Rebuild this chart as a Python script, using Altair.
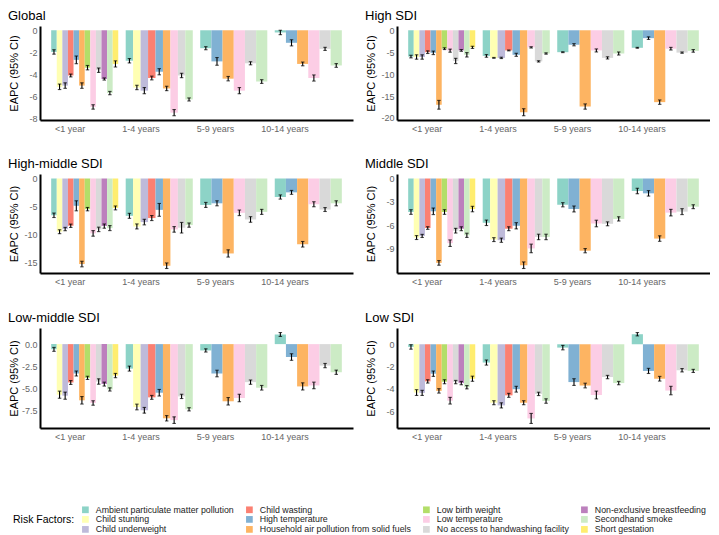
import altair as alt
import pandas as pd

FONT = "Liberation Sans"

panels = ["Global", "High SDI", "High-middle SDI", "Middle SDI", "Low-middle SDI", "Low SDI"]
ages = ["<1 year", "1-4 years", "5-9 years", "10-14 years"]

factors_lt1 = ["Ambient particulate matter pollution", "Child stunting", "Child underweight",
               "Child wasting", "High temperature", "Household air pollution from solid fuels",
               "Low birth weight", "Low temperature", "No access to handwashing facility",
               "Non-exclusive breastfeeding", "Secondhand smoke", "Short gestation"]
factors_1_4 = ["Ambient particulate matter pollution", "Child stunting", "Child underweight",
               "Child wasting", "High temperature", "Household air pollution from solid fuels",
               "Low temperature", "No access to handwashing facility", "Secondhand smoke"]
factors_older = ["Ambient particulate matter pollution", "High temperature",
                 "Household air pollution from solid fuels", "Low temperature",
                 "No access to handwashing facility", "Secondhand smoke"]
age_factors = [factors_lt1, factors_1_4, factors_older, factors_older]

# colours in the order of factors_lt1 (legend fills column by column)
factor_colors = ["#8DD3C7", "#FFFFB3", "#BEBADA", "#FB8072", "#80B1D3", "#FDB462",
                 "#B3DE69", "#FCCDE5", "#D9D9D9", "#BC80BD", "#CCEBC5", "#FFED6F"]

# EAPC values: <1 year (12), 1-4 years (9), 5-9 years (6), 10-14 years (6)
global_vals = [-1.97, -5.14, -5.03, -4.11, -2.69, -5.03, -3.40, -6.97, -3.63, -4.43, -5.71, -3.06,
               -2.77, -5.20, -5.49, -4.34, -3.77, -5.29, -7.49, -4.11, -6.29,
               -1.63, -2.83, -4.40, -5.49, -3.00, -4.66,
               -0.20, -1.14, -3.06, -4.34, -1.69, -3.20]
global_err = [0.20, 0.25, 0.25, 0.13, 0.35, 0.25, 0.20, 0.20, 0.20, 0.10, 0.15, 0.28,
              0.20, 0.20, 0.28, 0.17, 0.28, 0.20, 0.28, 0.20, 0.14,
              0.14, 0.35, 0.20, 0.28, 0.14, 0.17,
              0.20, 0.28, 0.17, 0.28, 0.14, 0.17]

high_vals = [-6.0, -6.1, -6.1, -5.0, -5.15, -17.0, -4.2, -4.65, -7.0, -4.6, -5.6, -3.9,
             -5.85, -6.3, -6.3, -4.6, -5.6, -18.7, -3.9, -7.1, -5.3,
             -5.0, -3.3, -17.4, -4.6, -6.3, -5.3,
             -4.0, -1.8, -16.4, -4.2, -5.1, -4.7]
high_err = [0.30, 0.50, 0.50, 0.30, 0.40, 1.00, 0.20, 0.35, 0.60, 0.20, 0.50, 0.25,
            0.30, 0.10, 0.15, 0.10, 0.35, 0.80, 0.15, 0.15, 0.15,
            0.10, 0.25, 0.60, 0.35, 0.25, 0.35,
            0.10, 0.30, 0.50, 0.30, 0.15, 0.30]

highmid_vals = [-6.6, -9.55, -9.07, -8.48, -4.9, -15.35, -5.5, -9.85, -9.13, -8.54, -8.9, -5.28,
                -6.7, -8.6, -7.82, -7.1, -5.63, -15.65, -9.13, -8.83, -8.36,
                -4.74, -4.45, -13.45, -6.16, -7.35, -5.99,
                -3.32, -2.49, -11.8, -4.62, -5.57, -4.45]
highmid_err = [0.40, 0.35, 0.30, 0.30, 0.90, 0.50, 0.30, 0.50, 0.40, 0.38, 0.45, 0.35,
               0.45, 0.45, 0.50, 0.45, 1.15, 0.50, 0.50, 0.95, 0.38,
               0.45, 0.45, 0.65, 0.50, 0.50, 0.45,
               0.38, 0.35, 0.50, 0.45, 0.35, 0.45]

middle_vals = [-4.29, -7.56, -7.35, -6.34, -4.2, -10.8, -4.29, -8.28, -6.68, -6.43, -7.27, -3.91,
               -5.67, -7.82, -7.9, -6.43, -6.05, -11.1, -8.95, -7.48, -7.48,
               -3.36, -3.9, -9.24, -5.76, -5.8, -5.17,
               -1.6, -1.9, -7.69, -4.37, -4.24, -3.61]
middle_err = [0.30, 0.25, 0.20, 0.17, 0.42, 0.30, 0.30, 0.42, 0.30, 0.25, 0.27, 0.35,
              0.35, 0.25, 0.27, 0.25, 0.40, 0.42, 0.55, 0.35, 0.35,
              0.27, 0.38, 0.27, 0.42, 0.25, 0.27,
              0.35, 0.35, 0.35, 0.42, 0.38, 0.25]

lowmid_vals = [-0.59, -5.68, -5.79, -4.31, -3.3, -6.31, -3.79, -6.61, -4.2, -4.49, -5.09, -3.53,
               -2.75, -7.06, -7.43, -5.98, -5.46, -8.33, -8.54, -5.87, -7.32,
               -0.71, -3.3, -6.42, -6.05, -4.27, -4.9,
               1.08, -1.45, -4.75, -4.64, -2.41, -3.16]
lowmid_err = [0.22, 0.40, 0.40, 0.22, 0.28, 0.42, 0.18, 0.25, 0.30, 0.22, 0.18, 0.24,
              0.28, 0.32, 0.32, 0.22, 0.37, 0.30, 0.37, 0.24, 0.18,
              0.18, 0.37, 0.42, 0.42, 0.24, 0.26,
              0.22, 0.37, 0.40, 0.37, 0.24, 0.24]

low_vals = [-0.24, -4.33, -4.36, -3.33, -2.64, -4.18, -3.36, -5.06, -3.39, -3.48, -3.85, -3.09,
            -1.64, -5.24, -5.48, -4.58, -4.03, -5.24, -6.65, -4.45, -5.09,
            -0.3, -3.39, -3.7, -4.55, -2.94, -3.48,
            0.9, -2.39, -3.09, -4.15, -2.33, -2.39]
low_err = [0.20, 0.26, 0.23, 0.15, 0.24, 0.20, 0.18, 0.30, 0.15, 0.15, 0.15, 0.23,
           0.23, 0.18, 0.23, 0.18, 0.26, 0.18, 0.45, 0.15, 0.20,
           0.20, 0.30, 0.21, 0.35, 0.15, 0.15,
           0.15, 0.23, 0.21, 0.38, 0.15, 0.14]

panel_vals = [global_vals, high_vals, highmid_vals, middle_vals, lowmid_vals, low_vals]
panel_errs = [global_err, high_err, highmid_err, middle_err, lowmid_err, low_err]
panel_ticks = [[0, -2, -4, -6, -8], [0, -5, -10, -15, -20], [0, -5, -10, -15],
               [0, -3, -6, -9], [0, -2.5, -5, -7.5], [0, -2, -4, -6]]
panel_fmt = ["d", "d", "d", "d", ".1f", "d"]

DODGE = 0.9
x_label_expr = "[" + ",".join("'%s'" % a for a in ages) + "][datum.value]"


def make_panel(idx, width, height, show_legend):
    name = panels[idx]
    vals = panel_vals[idx]
    errs = panel_errs[idx]
    rows = []
    k = 0
    for gi, facs in enumerate(age_factors):
        n = len(facs)
        for j, f in enumerate(facs):
            x0 = gi - DODGE / 2 + j * DODGE / n
            x1 = x0 + DODGE / n
            v = vals[k]
            e = errs[k]
            k += 1
            rows.append(dict(factor=f, x0=x0, x1=x1, xm=(x0 + x1) / 2, v=v,
                             lo=v - e, hi=v + e, zero=0.0))
    df = pd.DataFrame(rows)
    lo = min(df["lo"].min(), 0.0)
    hi = max(df["hi"].max(), 0.0)
    pad = 0.05 * (hi - lo)
    yscale = alt.Scale(domain=[lo - pad, hi + pad], nice=False, zero=False)
    xscale = alt.Scale(domain=[-0.6, 3.6], nice=False, zero=False)
    fmt = panel_fmt[idx]
    yaxis = alt.Axis(values=panel_ticks[idx], title="EAPC (95% CI)",
                     labelExpr="replace(format(datum.value, '%s'), '\u2212', '-')" % fmt)
    xaxis = alt.Axis(values=[0, 1, 2, 3], title=None, labelExpr=x_label_expr,
                     labelAlign="right")
    if show_legend:
        legend = alt.Legend(title="Risk Factors:", orient="none", legendX=-27, legendY=479,
                            columns=4, titleOrient="left", titleAnchor="middle",
                            titleBaseline="middle", titleFontSize=10.5,
                            titleFontWeight="normal", titleColor="black", titlePadding=6,
                            labelFontSize=8.8, labelColor="#222", symbolType="square",
                            symbolSize=45, symbolStrokeWidth=0, rowPadding=-1,
                            columnPadding=11, labelOffset=6, labelLimit=300)
    else:
        legend = None
    base = alt.Chart(df)
    color = alt.Color("factor:N", scale=alt.Scale(domain=factors_lt1, range=factor_colors),
                      legend=legend)
    bars = base.mark_bar().encode(
        x=alt.X("x0:Q", scale=xscale, axis=xaxis),
        x2="x1:Q",
        y=alt.Y("v:Q", scale=yscale, axis=yaxis),
        y2="zero:Q",
        color=color,
    )
    rule = base.mark_rule(color="black", strokeWidth=1.1).encode(
        x=alt.X("xm:Q", scale=xscale, axis=xaxis),
        y=alt.Y("lo:Q", scale=yscale, axis=yaxis),
        y2="hi:Q",
    )
    cap_lo = base.mark_tick(color="black", orient="horizontal", size=3.5, thickness=1.1).encode(
        x=alt.X("xm:Q", scale=xscale, axis=xaxis),
        y=alt.Y("lo:Q", scale=yscale, axis=yaxis),
    )
    cap_hi = base.mark_tick(color="black", orient="horizontal", size=3.5, thickness=1.1).encode(
        x=alt.X("xm:Q", scale=xscale, axis=xaxis),
        y=alt.Y("hi:Q", scale=yscale, axis=yaxis),
    )
    return alt.layer(bars, rule, cap_lo, cap_hi).properties(
        width=width, height=height,
        title=alt.Title(name, anchor="start", fontSize=13, fontWeight="normal",
                        color="black", offset=3, font=FONT),
    )


W = 313
row_heights = [94, 99, 100]
rows = []
for r in range(3):
    left = make_panel(2 * r, W, row_heights[r], r == 0)
    right = make_panel(2 * r + 1, W, row_heights[r], False)
    rows.append(alt.hconcat(left, right, spacing=12))

top_part = alt.vconcat(rows[0], rows[1], spacing=25)
chart = alt.vconcat(top_part, rows[2], spacing=26).properties(
    padding={"top": 2, "left": 0, "right": 0, "bottom": 0}
).configure(
    font=FONT
).configure_view(stroke=None).configure_axis(
    grid=False, ticks=False, domainColor="black", domainWidth=2,
    labelColor="#666666", labelFontSize=9, labelFont=FONT, titleFont=FONT,
).configure_axisX(labelPadding=4).configure_axisY(
    labelPadding=3, minExtent=19, maxExtent=19, titleFontSize=11,
    titleFontWeight="normal", titleColor="black", titlePadding=2,
).configure_concat(spacing=12)

chart.save("out.html", embed_options={"renderer": "svg", "actions": False})
